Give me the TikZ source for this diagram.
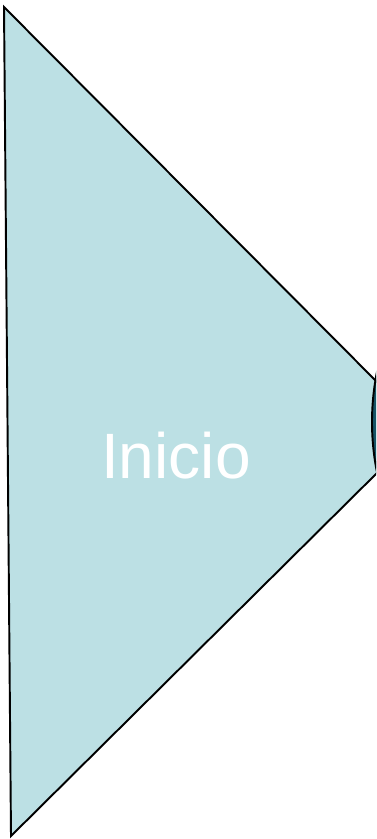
\documentclass[tikz,border=0pt]{standalone}
\usepackage{fontspec}
\setmainfont{Liberation Sans}
\usetikzlibrary{positioning}
\definecolor{inicioFill}{RGB}{188,224,228}
\definecolor{tipFill}{RGB}{22,84,102}

\begin{document}
\begin{tikzpicture}[
        x=0.02cm, y=0.02cm,
        shapeline/.style={draw=black, line width=1.1pt, line join=miter},
        label/.style={text=white, font=\fontsize{36.5}{40}\selectfont, inner sep=0pt}
    ]
        \useasboundingbox (0,0) rectangle (376,-839);
        \begin{scope}
            \clip (0,0) rectangle (376,-839);
            % main pointed shape
            \filldraw[shapeline, fill=inicioFill]
                (4,-7) -- (380,-385) -- (380,-470) -- (11,-836) -- cycle;
            % part of the next shape at the tip
            \filldraw[shapeline, fill=tipFill] (625,-422) circle (253);
        \end{scope}

        \node[label] (inicio) at (176,-456) {Inicio};
    \end{tikzpicture}
\end{document}
